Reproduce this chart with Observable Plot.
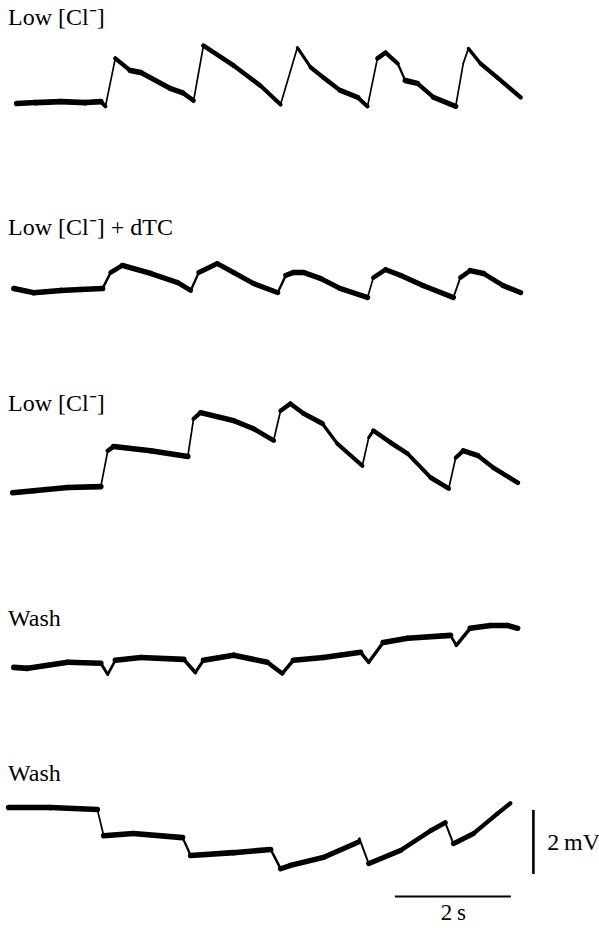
<!DOCTYPE html>
<html><head><meta charset="utf-8">
<script src="https://cdn.jsdelivr.net/npm/d3@7"></script>
<script src="https://cdn.jsdelivr.net/npm/@observablehq/plot@0.6"></script>
<style>html,body{margin:0;padding:0;background:#fff;}</style>
</head><body><div id="chart"></div>
<script>
// ---- data (time in s, potential in mV relative to each trace's start) ----
const traceNames = ["Low [Cl\u207B]", "Low [Cl\u207B] + dTC", "Low [Cl\u207B]", "Wash", "Wash"];

const t1 = [0.02,0.34,0.78,1.21,1.47,1.55,1.72,1.98,2.16,2.67,2.88,3.07,3.24,3.76,4.22,4.57,4.86,5.09,5.31,5.60,5.90,6.07,6.24,6.38,6.59,6.72,6.93,7.21,7.59,7.72,7.81,8.02,8.31,8.71];
const v1 = [0,0.03,0.06,0.03,0.06,-0.09,1.41,1.03,0.97,0.47,0.34,0.09,1.81,1.19,0.56,-0.03,1.75,1.13,0.81,0.41,0.19,-0.09,1.41,1.59,1.25,0.72,0.63,0.19,-0.09,1.25,1.72,1.25,0.81,0.19];

const t2 = [-0.03,0.31,0.78,1.12,1.50,1.64,1.84,2.33,2.79,3.02,3.16,3.48,3.76,4.10,4.52,4.66,4.79,4.97,5.26,5.60,6.07,6.17,6.38,6.64,7.03,7.55,7.67,7.84,8.07,8.41,8.71];
const v2 = [0,-0.13,-0.06,-0.03,0,0.5,0.72,0.47,0.19,-0.06,0.5,0.78,0.5,0.16,-0.13,0.41,0.5,0.5,0.31,0,-0.28,0.34,0.59,0.41,0.09,-0.28,0.34,0.56,0.47,0.09,-0.13];

const t3 = [-0.05,0.31,0.90,1.47,1.59,1.69,2.33,2.97,3.07,3.19,3.76,4.10,4.45,4.57,4.74,4.97,5.29,5.55,5.98,6.09,6.17,6.47,6.76,7.16,7.47,7.59,7.72,7.97,8.24,8.66];
const v3 = [0,0.06,0.16,0.19,1.31,1.44,1.31,1.13,2.31,2.5,2.25,2.0,1.63,2.56,2.78,2.47,2.16,1.53,0.84,1.72,1.94,1.56,1.22,0.47,0.13,1.09,1.31,1.16,0.78,0.31];

const t4 = [-0.03,0.21,0.90,1.47,1.59,1.72,2.16,2.90,3.10,3.24,3.76,4.34,4.60,4.79,5.31,5.95,6.09,6.34,6.76,7.50,7.60,7.84,8.19,8.48,8.66];
const v4 = [0,-0.03,0.16,0.13,-0.22,0.22,0.31,0.25,-0.16,0.22,0.38,0.16,-0.19,0.22,0.31,0.47,0.16,0.78,0.91,1.0,0.69,1.22,1.31,1.31,1.22];

const t5 = [-0.12,0.60,1.41,1.52,2.03,2.88,3.02,3.76,4.40,4.57,4.74,5.31,5.90,5.93,6.09,6.64,7.16,7.41,7.55,7.90,8.31,8.53];
const v5 = [0,0,-0.06,-0.88,-0.81,-0.94,-1.5,-1.41,-1.31,-1.91,-1.81,-1.56,-1.09,-0.97,-1.75,-1.34,-0.72,-0.47,-1.13,-0.81,-0.19,0.13];

const timeBarLength = 2;   // s
const voltBarLength = 2;   // mV
const timeBarLabel = "2\u2009s";
const voltBarLabel = "2\u2009mV";

// ---- layout ----
const traceOffsets = [-3.22, -9.0, -15.38, -20.84, -25.22]; // stacking of traces (mV)
const labelLift = [2.68, 1.9, 2.8, 1.52, 1.08];             // label height above trace start (mV)
const labelT = -0.13;
const timeBarT = 6.55, timeBarY = -28.0;
const voltBarT = 8.93, voltBarTop = -25.31;
const pxPerS = 58, pxPerMV = 32;
const fontSize = 24;

const ts = [t1, t2, t3, t4, t5];
const vs = [v1, v2, v3, v4, v5];

// consecutive segments; pen width thins on steep parts like a chart recorder
const segments = [];
ts.forEach((t, k) => {
  const v = vs[k];
  for (let i = 0; i < t.length - 1; i++) {
    const dx = (t[i+1] - t[i]) * pxPerS;
    const dy = (v[i+1] - v[i]) * pxPerMV;
    const len = Math.hypot(dx, dy);
    const w = Math.max(1.7, 5.6 * Math.abs(dx) / len);
    segments.push({x1: t[i], y1: traceOffsets[k] + v[i], x2: t[i+1], y2: traceOffsets[k] + v[i+1], w});
  }
});

const labelRows = traceNames.map((name, k) => ({x: labelT, y: traceOffsets[k] + labelLift[k], text: name}));

const chart = Plot.plot({
  width: 599,
  height: 928,
  margin: 0,
  x: {domain: [-0.26, 10.07], axis: null},
  y: {domain: [-29, 0], axis: null},
  style: {background: "white", fontFamily: "'Liberation Serif','Times New Roman',serif", color: "black"},
  marks: [
    Plot.link(segments, {x1: "x1", y1: "y1", x2: "x2", y2: "y2", stroke: "black", strokeWidth: "w", strokeLinecap: "round", strokeLinejoin: "round"}),
    Plot.text(labelRows, {x: "x", y: "y", text: "text", textAnchor: "start", fontSize, fill: "black"}),
    Plot.ruleX([voltBarT], {y1: voltBarTop - voltBarLength, y2: voltBarTop, stroke: "black", strokeWidth: 2.6}),
    Plot.ruleY([timeBarY], {x1: timeBarT, x2: timeBarT + timeBarLength, stroke: "black", strokeWidth: 2}),
    Plot.text([voltBarLabel], {x: voltBarT + 0.24, y: voltBarTop - voltBarLength / 2, text: d => d, textAnchor: "start", fontSize, fill: "black"}),
    Plot.text([timeBarLabel], {x: timeBarT + timeBarLength / 2, y: timeBarY - 0.5, text: d => d, textAnchor: "middle", fontSize: 23, fill: "black"})
  ]
});
document.getElementById("chart").appendChild(chart);
</script>
</body></html>
